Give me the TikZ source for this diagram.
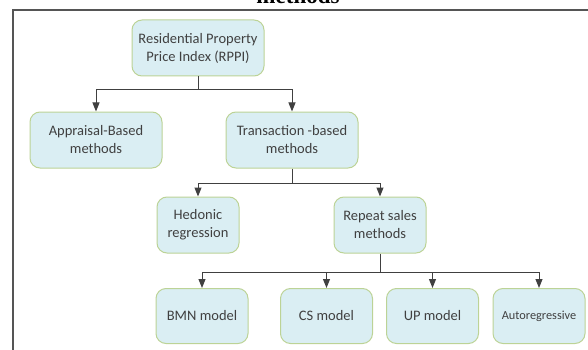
\documentclass[tikz,border=0pt]{standalone}
\usepackage{fontspec}
\setmainfont{Carlito}
\newfontfamily\titlefont{Liberation Serif}
\usetikzlibrary{arrows.meta, positioning}
\definecolor{boxfill}{HTML}{DAEEF3}
\definecolor{boxline}{HTML}{BCD396}
\definecolor{linegray}{HTML}{404040}
\definecolor{framegray}{HTML}{555555}

\begin{document}
\begin{tikzpicture}[x=1pt,y=-1pt,
    box/.style={draw=boxline, line width=1pt, fill=boxfill, rounded corners=10pt,
      align=center, text=linegray, inner sep=0pt,
      font=\fontsize{14.5}{18}\selectfont},
    widebox/.style={box, minimum width=132pt, minimum height=56pt},
    leafbox/.style={box, minimum width=92pt, minimum height=55pt},
    conn/.style={draw=linegray, line width=1pt, -{Triangle[length=9pt,width=7pt]}}]
    \useasboundingbox (0,0) rectangle (588,350);
    %\draw [step=50] (0,0) grid (588,350);
    \node[font=\titlefont\bfseries\fontsize{23}{26}\selectfont, anchor=base] (title) at (298,4) {methods};
    \draw[line width=2pt, framegray] (13,351) -- (13,10) -- (589,10);

    % upper levels
    \node[widebox] (rppi) at (198,48) {Residential Property\\Price Index (RPPI)};
    \node[widebox] (appr) at (96,140) {Appraisal-Based\\methods};
    \node[widebox] (trans) at (292,140) {Transaction -based\\methods};
    \node[box, minimum width=82pt, minimum height=56pt] (hedo) at (198,225) {Hedonic\\regression};
    \node[box, minimum width=92pt, minimum height=56pt] (rsm) at (380,225) {Repeat sales\\methods};

    % repeat sales models
    \node[leafbox] (bmn) at (202,316) {BMN model};
    \node[leafbox] (cs) at (326.5,316) {CS model};
    \node[leafbox] (up) at (432.5,316) {UP model};
    \node[leafbox, font=\fontsize{12.3}{15}\selectfont] (auto) at (539,316) {Autoregressive};

    \coordinate (b1) at (198,90);
    \coordinate (b2) at (292,183);
    \coordinate (b3) at (380,272);
    \draw[linegray, line width=1pt] (rppi.south) -- (b1);
    \draw[conn] (b1) -| (appr);
    \draw[conn] (b1) -| (trans);
    \draw[linegray, line width=1pt] (trans.south) -- (b2);
    \draw[conn] (b2) -| (hedo);
    \draw[conn] (b2) -| (rsm);
    \draw[linegray, line width=1pt] (rsm.south) -- (b3);
    \draw[conn] (b3) -| (bmn);
    \draw[conn] (b3) -| (cs);
    \draw[conn] (b3) -| (up);
    \draw[conn] (b3) -| (auto);
\end{tikzpicture}
\end{document}
